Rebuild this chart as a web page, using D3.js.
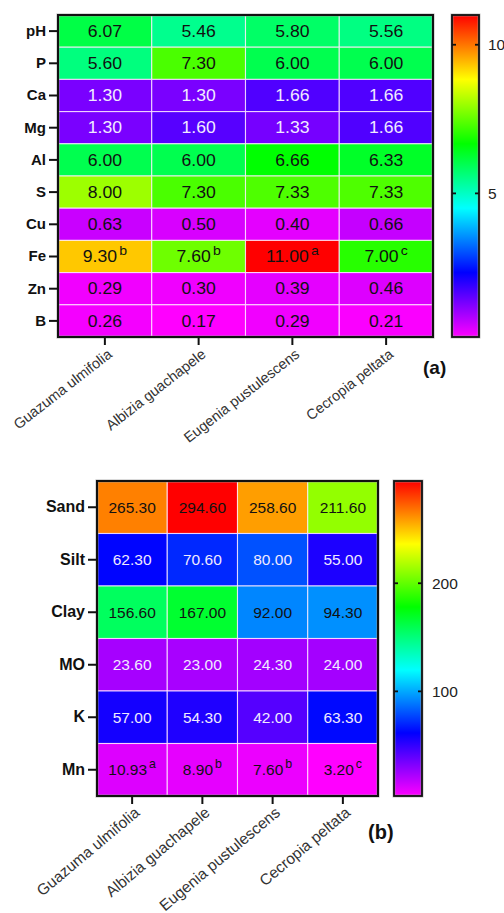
<!DOCTYPE html>
<html><head><meta charset="utf-8">
<script src="https://cdn.jsdelivr.net/npm/d3@7"></script>
<style>
html,body{margin:0;padding:0;background:#fff;}
svg{display:block;font-family:"Liberation Sans",Arial,Helvetica,sans-serif;}
</style></head>
<body>
<svg id="chart" width="504" height="913"></svg>
<script>
// ---------- DATA ----------
const species = ["Guazuma ulmifolia","Albizia guachapele","Eugenia pustulescens","Cecropia peltata"];

// Panel (a)
const rowsA = ["pH","P","Ca","Mg","Al","S","Cu","Fe","Zn","B"];
const pH = [6.07,5.46,5.80,5.56];
const P  = [5.60,7.30,6.00,6.00];
const Ca = [1.30,1.30,1.66,1.66];
const Mg = [1.30,1.60,1.33,1.66];
const Al = [6.00,6.00,6.66,6.33];
const S  = [8.00,7.30,7.33,7.33];
const Cu = [0.63,0.50,0.40,0.66];
const Fe = [9.30,7.60,11.00,7.00];
const Zn = [0.29,0.30,0.39,0.46];
const B  = [0.26,0.17,0.29,0.21];
const FeLetters = ["b","b","a","c"];
const ticksA = [5,10];

// Panel (b)
const rowsB = ["Sand","Silt","Clay","MO","K","Mn"];
const Sand = [265.30,294.60,258.60,211.60];
const Silt = [62.30,70.60,80.00,55.00];
const Clay = [156.60,167.00,92.00,94.30];
const MO   = [23.60,23.00,24.30,24.00];
const K    = [57.00,54.30,42.00,63.30];
const Mn   = [10.93,8.90,7.60,3.20];
const MnLetters = ["a","b","b","c"];
const ticksB = [100,200];

const valuesA = [pH,P,Ca,Mg,Al,S,Cu,Fe,Zn,B];
const valuesB = [Sand,Silt,Clay,MO,K,Mn];
const lettersA = {Fe:FeLetters};
const lettersB = {Mn:MnLetters};

// ---------- LAYOUT ----------
const panels = [
  {rows:rowsA, values:valuesA, letters:lettersA, ticks:ticksA, tag:"(a)",
   left:58, top:15, width:375, height:322, cbX:452, cbW:27,
   rowFont:15, cellFont:16, cellScale:1.1, xFont:14.5, rot:-38,
   tagX:423, tagY:374, tagFont:19, cbLabelX:488, xdx:5, xdy:15},
  {rows:rowsB, values:valuesB, letters:lettersB, ticks:ticksB, tag:"(b)",
   left:97, top:481, width:281, height:315, cbX:394, cbW:28,
   rowFont:16, cellFont:15.5, cellScale:1.0, xFont:15.5, rot:-40,
   tagX:368, tagY:839, tagFont:20, cbLabelX:432, xdx:5, xdy:14}
];

const svg = d3.select("#chart");
const defs = svg.append("defs");

panels.forEach((p, pi) => {
  const g = svg.append("g");
  const all = p.values.flat();
  const ext = d3.extent(all);
  const hue = d3.scaleLinear().domain(ext).range([300,0]);
  const color = v => d3.hsl(hue(v),1,0.5).toString();

  const x = d3.scaleBand().domain(species).range([p.left, p.left+p.width]);
  const y = d3.scaleBand().domain(p.rows).range([p.top, p.top+p.height]);

  const cells = [];
  p.rows.forEach((r,i) => species.forEach((s,j) => cells.push({r, s, j, v:p.values[i][j]})));

  g.selectAll("rect.cell").data(cells).join("rect")
    .attr("x", d => x(d.s)).attr("y", d => y(d.r))
    .attr("width", x.bandwidth()).attr("height", y.bandwidth())
    .attr("fill", d => color(d.v))
    .attr("stroke", "rgba(255,235,255,0.8)").attr("stroke-width", 1.1);

  const txt = g.selectAll("text.val").data(cells).join("text")
    .attr("transform", d => `translate(${x(d.s)+x.bandwidth()/2},${y(d.r)+y.bandwidth()/2}) scale(${p.cellScale},1)`)
    .attr("text-anchor","middle").attr("dy","0.35em")
    .attr("font-size", p.cellFont)
    .attr("fill", d => { const h = hue(d.v); return (h>212 && h<284) ? "#f0eaff" : "#111"; });
  txt.append("tspan").text(d => d.v.toFixed(2));
  txt.filter(d => p.letters[d.r]).append("tspan")
    .attr("dx", 2).attr("dy", "-0.55em").attr("font-size", p.cellFont*0.8)
    .text(d => p.letters[d.r][d.j]);

  // frame
  g.append("rect").attr("x",p.left).attr("y",p.top).attr("width",p.width).attr("height",p.height)
    .attr("fill","none").attr("stroke","#999").attr("stroke-width",3.2).attr("opacity",0.6);
  g.append("rect").attr("x",p.left).attr("y",p.top).attr("width",p.width).attr("height",p.height)
    .attr("fill","none").attr("stroke","#111").attr("stroke-width",2);

  // y axis
  const ya = g.append("g").attr("transform",`translate(${p.left-1},0)`)
    .call(d3.axisLeft(y).tickSize(8).tickPadding(3));
  ya.select(".domain").remove();
  ya.selectAll(".tick line").attr("stroke","#111").attr("stroke-width",2);
  ya.selectAll(".tick text").attr("font-size",p.rowFont).attr("font-weight","bold")
    .attr("fill","#111").attr("font-family","'Liberation Sans',Arial,sans-serif");

  // x axis
  const xa = g.append("g").attr("transform",`translate(0,${p.top+p.height+1})`)
    .call(d3.axisBottom(x).tickSize(7).tickFormat(""));
  xa.select(".domain").remove();
  xa.selectAll(".tick line").attr("stroke","#111").attr("stroke-width",2);
  g.selectAll("text.xl").data(species).join("text")
    .attr("transform", d => `translate(${x(d)+x.bandwidth()/2+p.xdx},${p.top+p.height+p.xdy}) rotate(${p.rot})`)
    .attr("text-anchor","end").attr("dy","0.35em")
    .attr("font-size",p.xFont).attr("fill","#333").text(d => d);

  // colorbar
  const gid = "grad"+pi;
  const grad = defs.append("linearGradient").attr("id",gid)
    .attr("x1","0").attr("y1","1").attr("x2","0").attr("y2","0");
  d3.range(0,1.0001,0.05).forEach(t => {
    const v = ext[0] + t*(ext[1]-ext[0]);
    grad.append("stop").attr("offset",t).attr("stop-color",color(v));
  });
  const cs = d3.scaleLinear().domain(ext).range([p.top+p.height, p.top]);
  g.append("rect").attr("x",p.cbX).attr("y",p.top).attr("width",p.cbW).attr("height",p.height)
    .attr("fill",`url(#${gid})`);
  g.append("rect").attr("x",p.cbX).attr("y",p.top).attr("width",p.cbW).attr("height",p.height)
    .attr("fill","none").attr("stroke","#999").attr("stroke-width",3).attr("opacity",0.6);
  g.append("rect").attr("x",p.cbX).attr("y",p.top).attr("width",p.cbW).attr("height",p.height)
    .attr("fill","none").attr("stroke","#111").attr("stroke-width",1.8);
  p.ticks.forEach(t => {
    const yy = cs(t);
    g.append("line").attr("x1",p.cbX).attr("x2",p.cbX+4).attr("y1",yy).attr("y2",yy)
      .attr("stroke","#111").attr("stroke-width",1.8);
    g.append("line").attr("x1",p.cbX+p.cbW-4).attr("x2",p.cbX+p.cbW).attr("y1",yy).attr("y2",yy)
      .attr("stroke","#111").attr("stroke-width",1.8);
    g.append("text").attr("x",p.cbLabelX).attr("y",yy).attr("dy","0.35em")
      .attr("font-size",15.5).attr("fill","#222").text(t);
  });

  // panel tag
  g.append("text").attr("x",p.tagX).attr("y",p.tagY).attr("font-size",p.tagFont)
    .attr("font-weight","bold").attr("fill","#111").text(p.tag);
});
</script>
</body></html>
